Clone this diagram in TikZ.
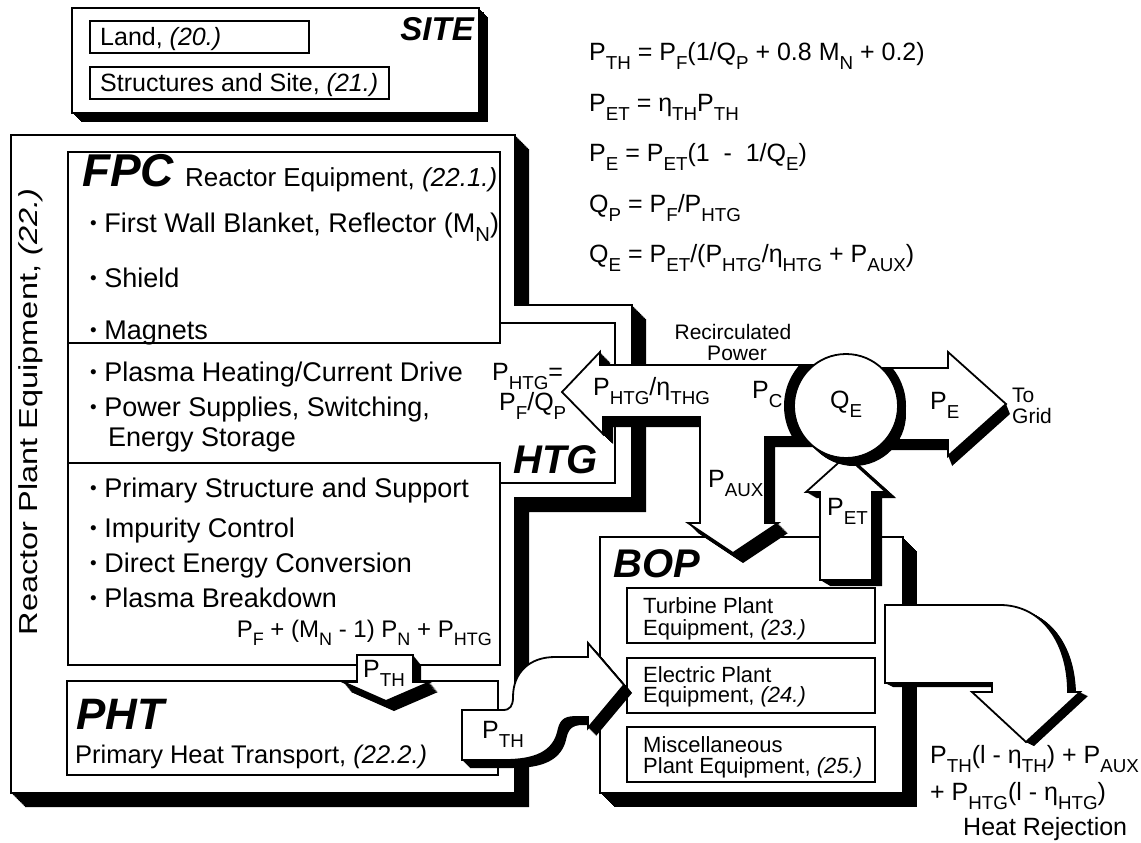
\documentclass[tikz,border=0pt]{standalone}
\usepackage{fontspec}
\setmainfont{Liberation Sans}
\newcommand{\sbs}[1]{\raisebox{-0.36em}{\scalebox{0.75}{#1}}}
\newcommand{\fmain}{\fontsize{25}{29}\selectfont}
\newcommand{\fitem}{\fontsize{27}{31}\selectfont}
\newcommand{\fpht}{\fontsize{25.5}{29}\selectfont}
\newcommand{\fbop}{\fontsize{22}{26}\selectfont}
\newcommand{\fsmall}{\fontsize{21}{24}\selectfont}
\newcommand{\ftitle}{\fontsize{40}{44}\selectfont\bfseries\itshape}
\newcommand{\fsite}{\fontsize{33}{36}\selectfont\bfseries\itshape}
\newcommand{\bul}{\raisebox{0.08em}{\scalebox{0.7}{•}}\ }
\newcommand{\extr}[3]{\foreach \k in {1,...,16}{\fill[black,shift={({\k*#2/16},{\k*#3/16})}] #1;}}
\begin{document}
\begin{tikzpicture}[x=1pt,y=-1pt,
  box/.style={draw=black,line width=1.8pt,fill=white,line join=miter},
  sbox/.style={draw=black,line width=1.6pt,fill=white},
  lbl/.style={inner sep=0pt,anchor=base west,font=\fmain},
  itm/.style={inner sep=0pt,anchor=base west,font=\fitem},
  lble/.style={inner sep=0pt,anchor=base east,font=\fmain},
  bl/.style={inner sep=0pt,anchor=base west,font=\fbop},
  sm/.style={inner sep=0pt,anchor=base west,font=\fsmall},
  smc/.style={inner sep=0pt,anchor=base,font=\fsmall},
  ttl/.style={inner sep=0pt,anchor=base west,font=\ftitle}]
\useasboundingbox (0,0) rectangle (1141,843);
\fill[white] (0,0) rectangle (1141,843);
% paths
\def\pSite{(72,8) rectangle (479,113)}
\def\pRPE{(11,135) -- (515,135) -- (515,305) -- (632,305) -- (632,498) -- (515,498) -- (515,793) -- (11,793) -- cycle}
\def\pHTG{(68,343) -- (500,343) -- (500,323) -- (615,323) -- (615,483) -- (500,483) -- (500,463) -- (68,463) -- cycle}
\def\pBOP{(600,537) rectangle (903,793)}
\def\pPTHa{(357,655) -- (413,655) -- (413,682) -- (430,682) -- (386,701) -- (343,682) -- (357,682) -- cycle}
\def\pPTHb{(462,710) -- (503,710) .. controls (510,710) and (513,706) .. (513,697) .. controls (513,672) and (530,657) .. (555,657) -- (588,657) -- (588,643) -- (624,685) -- (588,728) -- (588,717) -- (575,717) .. controls (563,717) and (560,722) .. (558,732) .. controls (553,752) and (535,760) .. (505,760) -- (462,760) -- cycle}
\def\pFlow{(830,365) -- (600,365) -- (600,352) -- (562,392) -- (603,434) -- (603,417) -- (700,417) -- (700,523) -- (688,523) -- (733,553) -- (778,523) -- (765,523) -- (765,437) -- (830,437) -- cycle}
\def\pPE{(860,368) -- (948,368) -- (948,352) -- (1006,404) -- (948,456) -- (948,440) -- (860,440) -- cycle}
\def\pPET{(820,580) -- (820,492) -- (806,492) -- (846,456) -- (886,492) -- (872,492) -- (872,580) -- cycle}
\def\pHR{(885,605) -- (1000,605) .. controls (1040,605) and (1068,640) .. (1068,692) -- (1080,692) -- (1026,742) -- (972,692) -- (992,692) -- (992,683) -- (885,683) -- cycle}
% SITE
\extr{\pSite}{9}{9}
\path[box] \pSite;
\path[sbox] (90,21) rectangle (309,53);
\path[sbox] (90,67) rectangle (389,99);
\node[lbl] (land) at (100,46) {Land, \textit{(20.)}};
\node[lbl] (struct) at (100,92) {Structures and Site, \textit{(21.)}};
\node[inner sep=0pt,anchor=base east,font=\fsite] (site) at (474,41) {SITE};
% equations
\node[lbl] (eq1) at (589,60) {P\sbs{TH} = P\sbs{F}(1/Q\sbs{P} + 0.8 M\sbs{N} + 0.2)};
\node[lbl] (eq2) at (589,111) {P\sbs{ET} = η\sbs{TH}P\sbs{TH}};
\node[lbl] (eq3) at (589,161) {P\sbs{E} = P\sbs{ET}(1 \ - \ 1/Q\sbs{E})};
\node[lbl] (eq4) at (589,212) {Q\sbs{P} = P\sbs{F}/P\sbs{HTG}};
\node[lbl] (eq5) at (589,262) {Q\sbs{E} = P\sbs{ET}/(P\sbs{HTG}/η\sbs{HTG} + P\sbs{AUX})};
% RPE
\extr{\pRPE}{14}{14}
\path[box] \pRPE;
\path[box] (68,152) rectangle (500,665);
\path[box] \pHTG;
\path[box] (67,681) rectangle (498,775);
\node[rotate=90,inner sep=0pt,font=\fontsize{26}{30}\selectfont] (rpe) at (31,412) {\scalebox{1.25}[1]{Reactor Plant Equipment, \textit{(22.)}}};
\node[ttl,font=\fontsize{46}{50}\selectfont\bfseries\itshape] (fpc) at (82,186) {FPC};
\node[lbl,font=\fontsize{26}{30}\selectfont] (fpct) at (185,186) {Reactor Equipment, \textit{(22.1.)}};
\node[itm] (i1) at (90,232) {\bul First Wall Blanket, Reflector (M\sbs{N})};
\node[itm] (i2) at (90,287) {\bul Shield};
\node[itm] (i3) at (90,339) {\bul Magnets};
\node[itm] (i4) at (90,381) {\bul Plasma Heating/Current Drive};
\node[itm] (i5) at (90,416) {\bul Power Supplies, Switching,};
\node[itm] (i5b) at (108,446) {Energy Storage};
\node[itm] (i6) at (90,497) {\bul Primary Structure and Support};
\node[itm] (i7) at (90,537) {\bul Impurity Control};
\node[itm] (i8) at (90,572) {\bul Direct Energy Conversion};
\node[itm] (i9) at (90,607) {\bul Plasma Breakdown};
\node[lble,font=\fontsize{24}{28}\selectfont] (pfor) at (492,637) {P\sbs{F} + (M\sbs{N} - 1) P\sbs{N} + P\sbs{HTG}};
\node[ttl] (htg) at (513,473) {HTG};
\node[ttl,font=\fontsize{44}{48}\selectfont\bfseries\itshape] (pht) at (76,729) {PHT};
\node[lbl,font=\fpht] (phtt) at (75,763) {Primary Heat Transport, \textit{(22.2.)}};
% BOP
\extr{\pBOP}{14}{14}
\path[box] \pBOP;
\path[sbox] (627,588) rectangle (875,643);
\path[sbox] (627,658) rectangle (875,713);
\path[sbox] (627,727) rectangle (875,782);
\node[ttl] (bop) at (613,577) {BOP};
\node[bl] (tb1) at (643,613) {Turbine Plant};
\node[bl] (tb2) at (643,635) {Equipment, \textit{(23.)}};
\node[bl] (el1) at (643,682) {Electric Plant};
\node[bl] (el2) at (643,702) {Equipment, \textit{(24.)}};
\node[bl] (mi1) at (643,752) {Miscellaneous};
\node[bl] (mi2) at (643,773) {Plant Equipment, \textit{(25.)}};
% arrows
\extr{\pPTHa}{8}{10}
\path[box] \pPTHa;
\extr{\pPTHb}{8}{8}
\path[box] \pPTHb;
\extr{\pFlow}{10}{10}
\path[box] \pFlow;
\extr{\pPE}{4}{10}
\path[box] \pPE;
\extr{\pPET}{10}{6}
\path[box] \pPET;
\begin{scope}\clip \pFlow; \fill[black] (846,406) circle[radius=62];\end{scope}
\begin{scope}\clip \pPE; \fill[black] (846,406) circle[radius=60];\end{scope}
\extr{(846,406) circle[radius=52]}{8}{8}
\path[box] (846,406) circle[radius=52];
\extr{\pHR}{8}{4}
\path[box] \pHR;
% arrow labels
\node[lbl] (pth1) at (363,677) {P\sbs{TH}};
\node[lbl] (pth2) at (482,738) {P\sbs{TH}};
\node[lbl] (phtgeq1) at (492,380) {P\sbs{HTG}=};
\node[lbl] (phtgeq2) at (499,410) {P\sbs{F}/Q\sbs{P}};
\node[lbl] (phtgeta) at (593,395) {P\sbs{HTG}/η\sbs{THG}};
\node[lbl] (pc) at (752,398) {P\sbs{C}};
\node[lbl] (paux) at (708,487) {P\sbs{AUX}};
\node[lbl] (qe) at (830,408) {Q\sbs{E}};
\node[lbl] (pe) at (930,409) {P\sbs{E}};
\node[lbl] (pet) at (827,515) {P\sbs{ET}};
\node[smc] (rec1) at (733,339) {Recirculated};
\node[smc] (rec2) at (737,360) {Power};
\node[sm] (to) at (1012,402) {To};
\node[sm] (grid) at (1012,423) {Grid};
\node[lbl] (hr1) at (930,763) {P\sbs{TH}(l - η\sbs{TH}) + P\sbs{AUX}};
\node[lbl] (hr2) at (930,800) {+ P\sbs{HTG}(l - η\sbs{HTG})};
\node[lbl] (hr3) at (963,835) {Heat Rejection};
\end{tikzpicture}
\end{document}
